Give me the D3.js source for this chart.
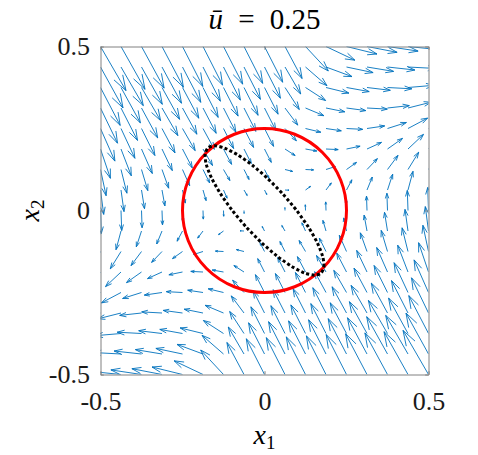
<!DOCTYPE html>
<html><head><meta charset="utf-8">
<script src="https://cdn.jsdelivr.net/npm/d3@7"></script>
<style>body{margin:0;background:#fff}</style>
</head><body>
<svg id="c" width="478" height="455" xmlns="http://www.w3.org/2000/svg"></svg>
<script>
const gridX = [-0.5,-0.4375,-0.375,-0.3125,-0.25,-0.1875,-0.125,-0.0625,0,0.0625,0.125,0.1875,0.25,0.3125,0.375,0.4375,0.5];
const gridY = [-0.5,-0.4375,-0.375,-0.3125,-0.25,-0.1875,-0.125,-0.0625,0,0.0625,0.125,0.1875,0.25,0.3125,0.375,0.4375,0.5];
// field components U[j][i], V[j][i] at (gridX[i], gridY[j])
const U = [
[-32.5,-31.4,-30.6,-30.1,-30.5,-28.9,-22.8,-17.1,-18.2,-18.7,-19.2,-19.6,-20.3,-21.4,-22.6,-24.0,-25.5],
[-29.9,-28.4,-27.4,-26.6,-26.6,-26.0,-21.5,-15.7,-15.9,-16.4,-16.9,-17.4,-18.3,-19.5,-20.8,-22.3,-22.5],
[-27.1,-25.9,-24.3,-23.3,-22.7,-22.9,-20.1,-14.3,-13.6,-14.1,-14.6,-15.2,-16.3,-17.6,-19.1,-19.4,-19.7],
[-24.0,-23.0,-21.8,-20.3,-19.3,-18.8,-18.4,-12.8,-11.3,-11.9,-12.4,-13.2,-14.4,-15.9,-16.2,-16.5,-17.0],
[-20.0,-19.6,-18.9,-17.7,-16.2,-15.3,-15.3,-11.4,-9.1,-9.6,-10.1,-11.3,-12.7,-13.0,-13.4,-13.9,-14.4],
[-15.7,-15.5,-15.0,-14.5,-13.6,-12.2,-11.3,-10.1,-6.8,-7.3,-8.1,-9.5,-9.8,-10.3,-10.8,-10.3,-9.9],
[-10.8,-10.7,-10.5,-10.4,-10.0,-9.4,-8.1,-7.6,-4.5,-5.1,-6.4,-6.7,-7.2,-6.7,-6.3,-5.9,-5.6],
[-4.9,-5.0,-5.2,-5.3,-5.4,-5.3,-5.0,-4.0,-2.3,-3.2,-3.6,-3.1,-2.8,-2.9,-3.0,-3.0,-3.2],
[0.8,0.7,0.6,0.5,0.4,0.3,0.2,0.1,0,-0.1,-0.2,-0.3,-0.4,-0.5,-0.6,-0.7,-0.8],
[3.2,3.0,3.0,2.9,2.8,3.1,3.6,3.2,2.3,4.0,5.0,5.3,5.4,5.3,5.2,5.0,4.9],
[5.6,5.9,6.3,6.7,7.2,6.7,6.4,5.1,4.5,7.6,8.1,9.4,10.0,10.4,10.5,10.7,10.8],
[9.9,10.3,10.8,10.3,9.8,9.5,8.1,7.3,6.8,10.1,11.3,12.2,13.6,14.5,15.0,15.5,15.7],
[14.4,13.9,13.4,13.0,12.7,11.3,10.1,9.6,9.1,11.4,15.3,15.3,16.2,17.7,18.9,19.6,20.0],
[17.0,16.5,16.2,15.9,14.4,13.2,12.4,11.9,11.3,12.8,18.4,18.8,19.3,20.3,21.8,23.0,24.0],
[19.7,19.4,19.1,17.6,16.3,15.2,14.6,14.1,13.6,14.3,20.1,22.9,22.7,23.3,24.3,25.9,27.1],
[22.5,22.3,20.8,19.5,18.3,17.4,16.9,16.4,15.9,15.7,21.5,26.0,26.6,26.6,27.4,28.4,29.9],
[25.5,24.0,22.6,21.4,20.3,19.6,19.2,18.7,18.2,17.1,22.8,28.9,30.5,30.1,30.6,31.4,32.5]];
const V = [
[1.7,3.2,4.6,5.8,7.5,13.7,24.5,32.0,35.7,36.8,37.6,38.6,39.9,40.7,41.6,42.8,44.1],
[-2.0,1.5,3.0,4.4,5.6,9.6,18.7,27.0,31.2,32.3,33.1,34.2,35.3,36.2,37.3,38.6,40.9],
[-5.6,-2.2,1.3,2.8,4.1,5.6,13.0,22.0,26.7,27.8,28.6,29.9,30.7,31.8,33.1,35.4,37.9],
[-9.7,-5.8,-2.4,1.1,2.6,3.8,7.7,17.1,22.3,23.3,24.3,25.3,26.2,27.6,29.9,32.4,35.2],
[-14.2,-10.4,-6.0,-2.6,0.85,2.3,3.7,12.3,17.8,18.9,20.0,20.8,22.1,24.4,27.0,29.8,32.6],
[-17.9,-14.6,-10.6,-6.6,-2.8,0.6,2.0,6.5,13.4,14.4,15.3,16.5,18.9,21.6,24.5,26.8,29.3],
[-20.3,-17.3,-14.1,-10.9,-7.1,-3.0,0.4,1.9,8.9,10.0,11.0,13.5,16.3,18.7,21.1,23.7,26.2],
[-21.5,-18.7,-15.8,-13.0,-10.2,-7.1,-3.6,0.2,4.5,5.5,8.2,10.6,13.1,15.9,18.7,21.6,24.4],
[-23.0,-20.1,-17.25,-14.4,-11.5,-8.6,-5.75,-2.9,0,2.9,5.75,8.6,11.5,14.4,17.25,20.1,23.0],
[-24.4,-21.6,-18.7,-15.9,-13.1,-10.6,-8.2,-5.5,-4.5,-0.2,3.6,7.1,10.2,13.0,15.8,18.7,21.5],
[-26.2,-23.7,-21.1,-18.7,-16.3,-13.5,-11.0,-10.0,-8.9,-1.9,-0.4,3.0,7.1,10.9,14.1,17.3,20.3],
[-29.3,-26.8,-24.5,-21.6,-18.9,-16.5,-15.3,-14.4,-13.4,-6.5,-2.0,-0.6,2.8,6.6,10.6,14.6,17.9],
[-32.6,-29.8,-27.0,-24.4,-22.1,-20.8,-20.0,-18.9,-17.8,-12.3,-3.7,-2.3,-0.85,2.6,6.0,10.4,14.2],
[-35.2,-32.4,-29.9,-27.6,-26.2,-25.3,-24.3,-23.3,-22.3,-17.1,-7.7,-3.8,-2.6,-1.1,2.4,5.8,9.7],
[-37.9,-35.4,-33.1,-31.8,-30.7,-29.9,-28.6,-27.8,-26.7,-22.0,-13.0,-5.6,-4.1,-2.8,-1.3,2.2,5.6],
[-40.9,-38.6,-37.3,-36.2,-35.3,-34.2,-33.1,-32.3,-31.2,-27.0,-18.7,-9.6,-5.6,-4.4,-3.0,-1.5,2.0],
[-44.1,-42.8,-41.6,-40.7,-39.9,-38.6,-37.6,-36.8,-35.7,-32.0,-24.5,-13.7,-7.5,-5.8,-4.6,-3.2,-1.7]];
const circleRadius = 0.25;
const setX1 = [0.1727,0.1812,0.1774,0.1614,0.1346,0.0985,0.0557,0.0091,-0.0382,-0.0828,-0.1218,-0.1524,-0.1727,-0.1812,-0.1774,-0.1614,-0.1346,-0.0985,-0.0557,-0.0091,0.0382,0.0828,0.1218,0.1524];
const setX2 = [-0.1907,-0.1711,-0.1400,-0.0992,-0.0517,-0.0006,0.0504,0.0980,0.1389,0.1704,0.1904,0.1973,0.1907,0.1711,0.1400,0.0992,0.0517,0.0006,-0.0504,-0.0980,-0.1389,-0.1704,-0.1904,-0.1973];
const tickValues = [-0.5, 0, 0.5];
const tickLabels = ["-0.5", "0", "0.5"];
const titleValue = "0.25";

const svg = d3.select('#c');
const L = 100.5, R = 428.5, T = 46.5, B = 374.5;
const x = d3.scaleLinear().domain([-0.5, 0.5]).range([L, R]);
const y = d3.scaleLinear().domain([-0.5, 0.5]).range([B, T]);
svg.append('rect').attr('width', 478).attr('height', 455).attr('fill', '#fff');
svg.append('defs').append('clipPath').attr('id', 'clip')
  .append('rect').attr('x', L).attr('y', T).attr('width', R - L).attr('height', B - T);

const arrowScale = 1 / 328, alpha = 0.3, beta = 0.33;
const cells = [];
gridY.forEach((yv, j) => gridX.forEach((xv, i) => cells.push({x0: xv, y0: yv, u: U[j][i], v: V[j][i]})));
const arrowPath = c => {
  const u = c.u * arrowScale, v = c.v * arrowScale;
  const tx = c.x0 + u, ty = c.y0 + v;
  const h1x = tx - alpha * (u + beta * v), h1y = ty - alpha * (v - beta * u);
  const h2x = tx - alpha * (u - beta * v), h2y = ty - alpha * (v + beta * u);
  return `M${x(c.x0)},${y(c.y0)}L${x(tx)},${y(ty)}M${x(h1x)},${y(h1y)}L${x(tx)},${y(ty)}L${x(h2x)},${y(h2y)}`;
};
svg.append('g').attr('clip-path', 'url(#clip)')
  .selectAll('path').data(cells).join('path')
  .attr('d', arrowPath).attr('fill', 'none').attr('stroke', '#0072BD').attr('stroke-width', 0.9);

const plot = svg.append('g').attr('clip-path', 'url(#clip)');
plot.append('circle').attr('cx', x(0)).attr('cy', y(0)).attr('r', x(circleRadius) - x(0))
  .attr('fill', 'none').attr('stroke', '#ff0000').attr('stroke-width', 3);
const pts = setX1.map((v, k) => [v, setX2[k]]);
plot.append('path').datum(pts)
  .attr('d', d3.line().x(d => x(d[0])).y(d => y(d[1])).curve(d3.curveCardinalClosed.tension(0.3)))
  .attr('fill', 'none').attr('stroke', '#000').attr('stroke-width', 3).attr('stroke-dasharray', '3,2.4');

const axisColor = '#808080', fs = 26;
const serif = '"Liberation Serif", "Times New Roman", serif';
const fmt = v => tickLabels[tickValues.indexOf(v)];
const styleAxis = (g, labels) => {
  g.selectAll('.domain').attr('stroke', axisColor).attr('stroke-width', 1).attr('fill', 'none');
  g.selectAll('.tick line').attr('stroke', axisColor);
  g.selectAll('.tick text').attr('fill', '#1a1a1a').style('font-family', serif).style('font-size', fs + 'px');
  if (!labels) g.selectAll('.tick text').remove();
};
svg.append('g').attr('transform', `translate(0,${B})`)
  .call(d3.axisBottom(x).tickValues(tickValues).tickFormat(fmt).tickSizeInner(-3.3).tickSizeOuter(0).tickPadding(17))
  .call(g => styleAxis(g, true));
svg.append('g').attr('transform', `translate(0,${T})`)
  .call(d3.axisTop(x).tickValues(tickValues).tickSizeInner(-3.3).tickSizeOuter(0))
  .call(g => styleAxis(g, false));
svg.append('g').attr('transform', `translate(${L},0)`)
  .call(d3.axisLeft(y).tickValues(tickValues).tickFormat(fmt).tickSizeInner(-3.3).tickSizeOuter(0).tickPadding(10.5))
  .call(g => styleAxis(g, true));
svg.append('g').attr('transform', `translate(${R},0)`)
  .call(d3.axisRight(y).tickValues(tickValues).tickSizeInner(-3.3).tickSizeOuter(0))
  .call(g => styleAxis(g, false));

const title = svg.append('text').attr('x', x(0)).attr('y', 29).attr('text-anchor', 'middle')
  .style('font-family', serif).style('font-size', '29px').style('word-spacing', '8px').attr('fill', '#000');
title.append('tspan').style('font-style', 'italic').text('ū');
title.append('tspan').text(' = ' + titleValue);

const xl = svg.append('text').attr('x', x(0)).attr('y', 444).attr('text-anchor', 'middle')
  .style('font-family', serif).style('font-size', '28px').attr('fill', '#000');
xl.append('tspan').style('font-style', 'italic').text('x');
xl.append('tspan').attr('dy', 5).style('font-size', '19px').text('1');

const yl = svg.append('text').attr('transform', `translate(39,${y(0)}) rotate(-90)`).attr('text-anchor', 'middle')
  .style('font-family', serif).style('font-size', '28px').attr('fill', '#000');
yl.append('tspan').style('font-style', 'italic').text('x');
yl.append('tspan').attr('dy', 5).style('font-size', '19px').text('2');
</script>
</body></html>
